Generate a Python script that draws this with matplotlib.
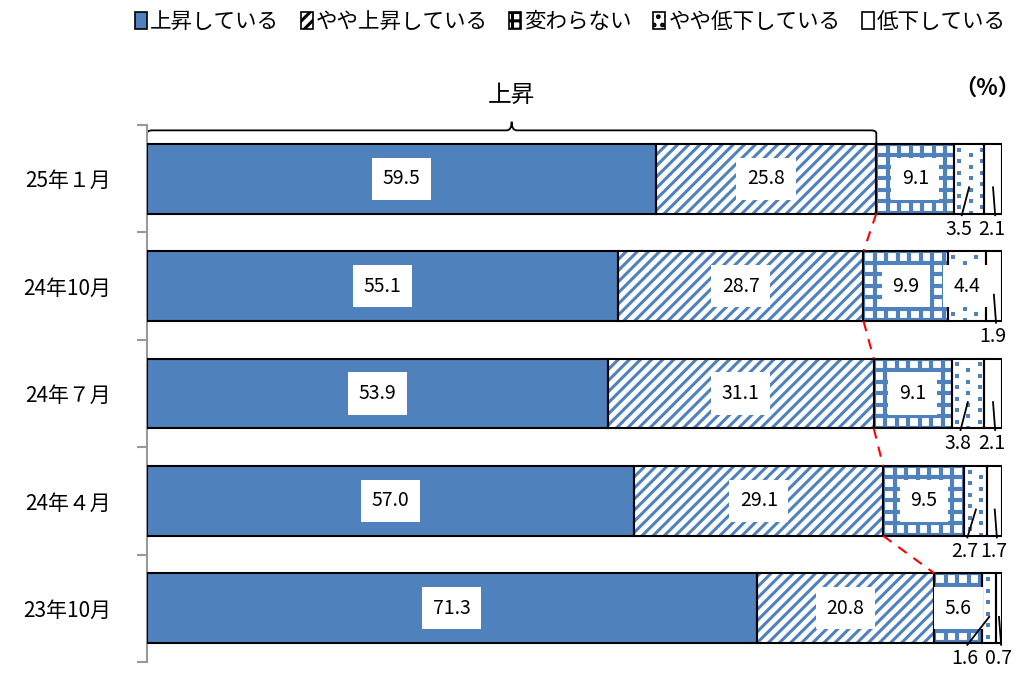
import matplotlib
matplotlib.use('Agg')
import matplotlib.pyplot as plt
import numpy as np
from matplotlib.patches import Patch, PathPatch
from matplotlib.path import Path
from matplotlib.collections import LineCollection

plt.rcParams['font.family'] = ['Noto Sans CJK JP', 'DejaVu Sans']
plt.rcParams['hatch.linewidth'] = 2.2

# survey periods (top to bottom) and share of answers, in %
periods = ['25年１月', '24年10月', '24年７月', '24年４月', '23年10月']
rising = [59.5, 55.1, 53.9, 57.0, 71.3]
slightly_rising = [25.8, 28.7, 31.1, 29.1, 20.8]
unchanged = [9.1, 9.9, 9.1, 9.5, 5.6]
slightly_falling = [3.5, 4.4, 3.8, 2.7, 1.6]
falling = [2.1, 1.9, 2.1, 1.7, 0.7]
series_names = ['上昇している', 'やや上昇している', '変わらない', 'やや低下している', '低下している']

blue = '#4F81BD'
styles = [
    dict(facecolor=blue, edgecolor=blue, hatch=None),
    dict(facecolor='white', edgecolor=blue, hatch='///'),
    dict(facecolor='white', edgecolor=blue, hatch=None),   # grid drawn by hand
    dict(facecolor='white', edgecolor=blue, hatch=None),   # dots drawn by hand
    dict(facecolor='white', edgecolor='white', hatch=None),
]
legend_hatch = [None, '///', '++', '..', None]

fig = plt.figure(figsize=(10.19, 6.79), dpi=100)
ax = fig.add_axes([147 / 1019, 17 / 679, 855 / 1019, 537 / 679])
ax.set_xlim(0, 100)
ax.set_ylim(len(periods) - 0.5, -0.5)

series = [rising, slightly_rising, unchanged, slightly_falling, falling]
ypos = list(range(len(periods)))
height = 0.65
# pattern pitch for the hand-drawn fills, in data units (~11.5 px)
pitch_x = 11.5 * 100 / 855
pitch_y = 11.5 * 5 / 537

left = [0.0] * len(periods)
for k, (vals, st) in enumerate(zip(series, styles)):
    bars = ax.barh(ypos, vals, left=left, height=height, linewidth=0, **st)
    for i, patch in enumerate(bars.patches):
        x0, x1 = left[i], left[i] + vals[i]
        y0, y1 = i - height / 2, i + height / 2
        if k == 2:
            segs = [[(x, y0), (x, y1)] for x in np.arange(x0, x1, pitch_x)]
            segs += [[(x0, y), (x1, y)] for y in np.arange(y0, y1, pitch_y)]
            lc = LineCollection(segs, colors=blue, linewidths=3.0, zorder=2)
            ax.add_collection(lc)
            lc.set_clip_path(patch)
        elif k == 3:
            xs, ys = [], []
            for j, x in enumerate(np.arange(x0 + pitch_x * 0.45, x1, pitch_x)):
                off = 0.0 if j % 2 == 0 else pitch_y / 2
                for y in np.arange(y0 + pitch_y / 2 + off, y1, pitch_y):
                    xs.append(x)
                    ys.append(y)
            dots = ax.scatter(xs, ys, s=6, marker='s', color=blue, linewidths=0,
                              zorder=2)
            dots.set_clip_path(patch)
    ax.barh(ypos, vals, left=left, height=height, fill=False,
            edgecolor='black', linewidth=1.5, zorder=3)
    left = [l + v for l, v in zip(left, vals)]

label_box = dict(boxstyle='square,pad=0.55', facecolor='white', edgecolor='none')
for i in ypos:
    starts = [0.0]
    for vals in series[:-1]:
        starts.append(starts[-1] + vals[i])
    for k, vals in enumerate(series):
        v = vals[i]
        c = starts[k] + v / 2
        if v >= 4:
            ax.text(c, i, f'{v:.1f}', ha='center', va='center', fontsize=14,
                    bbox=label_box, zorder=5)
        else:
            tx = min(c - 1.2, 95.6) if k == 3 else c - 0.1
            ax.plot([c, tx + 0.35], [i + 0.08, i + 0.34], color='black',
                    lw=1.3, clip_on=False, zorder=6)
            ax.text(tx, i + 0.47, f'{v:.1f}', ha='center', va='center',
                    fontsize=14, clip_on=False)

# dashed red link between the ends of the "rising" totals
cum_up = [a + b for a, b in zip(rising, slightly_rising)]
for i in range(len(periods) - 1):
    ax.plot([cum_up[i], cum_up[i + 1]], [i + height / 2, i + 1 - height / 2],
            color='red', lw=1.5, ls=(0, (5, 4)), zorder=4)

# brace over the rising total of the latest survey
top = -height / 2
yb = top - 0.125
mid = cum_up[0] / 2
r = 0.6
verts = [(0, top), (0, yb + 0.03), (0, yb), (r, yb),
         (mid - r, yb), (mid, yb), (mid, yb - 0.08),
         (mid, yb), (mid + r, yb),
         (cum_up[0] - r, yb), (cum_up[0], yb), (cum_up[0], yb + 0.03),
         (cum_up[0], top)]
codes = [Path.MOVETO, Path.LINETO, Path.CURVE3, Path.CURVE3,
         Path.LINETO, Path.CURVE3, Path.CURVE3,
         Path.CURVE3, Path.CURVE3,
         Path.LINETO, Path.CURVE3, Path.CURVE3,
         Path.LINETO]
ax.add_patch(PathPatch(Path(verts, codes), fill=False, edgecolor='black',
                       lw=1.3, clip_on=False))
ax.text(mid, yb - 0.33, '上昇', ha='center', va='center', fontsize=17)

ax.set_yticks(ypos)
ax.set_yticklabels(periods, fontsize=15)
ax.set_yticks([p - 0.5 for p in range(len(periods) + 1)], minor=True)
ax.tick_params(axis='y', which='major', length=0, pad=26)
ax.tick_params(axis='y', which='minor', length=7, width=1.5, color='#999999')
ax.set_xticks([])
for side in ['top', 'right', 'bottom']:
    ax.spines[side].set_visible(False)
ax.spines['left'].set_color('#999999')
ax.spines['left'].set_linewidth(1.5)

fig.text(987 / 1019, 1 - 88 / 679, '（%）', ha='center', va='center',
         fontsize=16, fontweight='bold')

handles = [Patch(facecolor=st['facecolor'], edgecolor='black', hatch=h,
                 linewidth=1.2) for st, h in zip(styles, legend_hatch)]
fig.legend(handles, series_names, loc='center', bbox_to_anchor=(0.56, 1 - 22 / 679),
           ncol=5, frameon=False, fontsize=15.5, handlelength=0.55, handleheight=0.8,
           handletextpad=0.15, columnspacing=1.0)

fig.savefig('out.png', dpi=100)
